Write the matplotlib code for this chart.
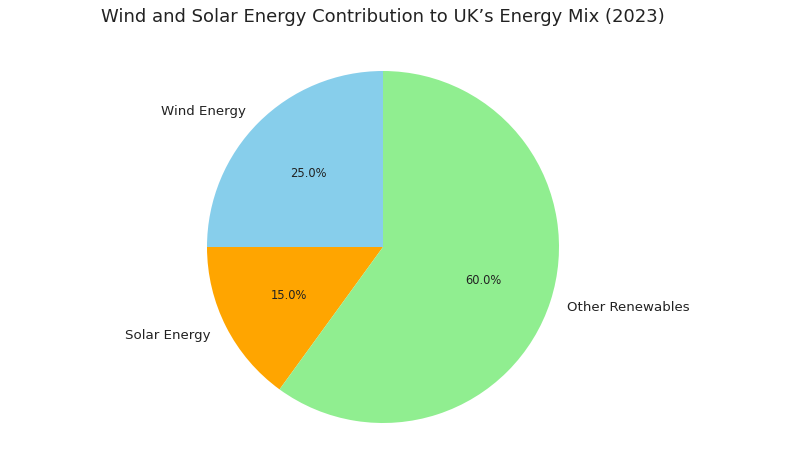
import matplotlib
matplotlib.use("Agg")
import matplotlib.pyplot as plt

# data
labels = ["Wind Energy", "Solar Energy", "Other Renewables"]
shares = [25, 15, 60]
colors = ["skyblue", "orange", "lightgreen"]

W, H = 795, 477
fig = plt.figure(figsize=(W / 100, H / 100), dpi=100)

# pie centre ~ (383, 248) px from top-left, radius ~176 px
cx, cy, r = 383, 248, 176
half = 1.1 * r
ax = fig.add_axes([(cx - half) / W, (H - cy - half) / H, 2 * half / W, 2 * half / H])

wedges, texts, autotexts = ax.pie(shares, labels=labels, colors=colors,
                                  autopct="%1.1f%%", startangle=90,
                                  textprops={"fontsize": 9.6, "color": "#222222"})
for t in autotexts:
    t.set_fontsize(8.3)
ax.set_xlim(-1.1, 1.1)
ax.set_ylim(-1.1, 1.1)

fig.text(cx / W, 1 - 17 / H,
         "Wind and Solar Energy Contribution to UK\u2019s Energy Mix (2023)",
         fontsize=13, ha="center", va="center", color="#222222")

fig.savefig("out.png", dpi=100)
